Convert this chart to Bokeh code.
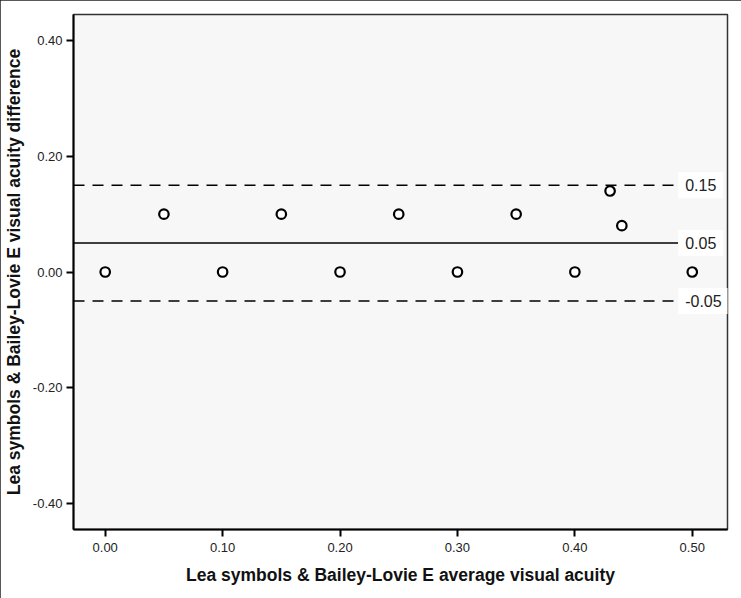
from bokeh.plotting import figure
from bokeh.models import Label, FixedTicker, Range1d
from bokeh.embed import file_html
from bokeh.resources import INLINE

# Data
avg_acuity = [0.00, 0.05, 0.10, 0.15, 0.20, 0.25, 0.30, 0.35, 0.40, 0.43, 0.44, 0.50]
diff_acuity = [0.00, 0.10, 0.00, 0.10, 0.00, 0.10, 0.00, 0.10, 0.00, 0.14, 0.08, 0.00]
mean_diff = 0.05
upper_loa = 0.15
lower_loa = -0.05
line_labels = ["0.15", "0.05", "-0.05"]
x_ticks = [0.0, 0.1, 0.2, 0.3, 0.4, 0.5]
y_ticks = [-0.4, -0.2, 0.0, 0.2, 0.4]

X_START, X_END = -0.027, 0.530
LINE_END = 0.488

p = figure(width=741, height=598, output_backend="svg", toolbar_location=None,
           x_range=Range1d(X_START, X_END), y_range=Range1d(-0.445, 0.445),
           min_border_left=73, min_border_right=14, min_border_top=14, min_border_bottom=69)
p.styles = {"outline": "2px solid #222222", "outline-offset": "-2px"}

p.background_fill_color = "#f7f7f7"
p.border_fill_color = "white"
p.outline_line_color = "#333333"
p.outline_line_width = 1.5
p.xgrid.visible = False
p.ygrid.visible = False

font = "Liberation Sans"
for ax in (p.xaxis[0], p.yaxis[0]):
    ax.axis_line_color = "black"
    ax.axis_line_width = 2
    ax.major_tick_line_color = "black"
    ax.major_tick_line_width = 2
    ax.major_tick_out = 7
    ax.major_tick_in = 0
    ax.minor_tick_line_color = None
    ax.major_label_text_font = font
    ax.major_label_text_font_size = "13px"
    ax.major_label_text_color = "#222222"
    ax.axis_label_text_font = font
    ax.axis_label_text_font_size = "17.5px"
    ax.axis_label_text_font_style = "bold"
    ax.axis_label_text_color = "#111111"

p.xaxis.ticker = FixedTicker(ticks=x_ticks)
p.yaxis.ticker = FixedTicker(ticks=y_ticks)
p.xaxis.major_label_overrides = {t: f"{t:.2f}" for t in x_ticks}
p.yaxis.major_label_overrides = {t: f"{t:.2f}" for t in y_ticks}
p.xaxis.axis_label = "Lea symbols & Bailey-Lovie E average visual acuity"
p.yaxis.axis_label = "Lea symbols & Bailey-Lovie E visual acuity difference"
p.xaxis.major_label_standoff = 6
p.xaxis.axis_label_standoff = 10
p.yaxis.major_label_standoff = 4
p.yaxis.axis_label_standoff = 6

ref_y = [upper_loa, mean_diff, lower_loa]
dashes = ["11 8", "solid", "11 8"]
for yv, dash in zip(ref_y, dashes):
    p.line([X_START, LINE_END], [yv, yv], line_color="black", line_width=1.5, line_dash=dash)

for yv, txt in zip(ref_y, line_labels):
    p.add_layout(Label(x=LINE_END, y=yv, text=txt, text_font=font, text_font_size="16px",
                       text_color="#222222", text_align="left", text_baseline="middle",
                       padding=7, background_fill_color="white",
                       background_fill_alpha=1.0))

p.scatter(avg_acuity, diff_acuity, marker="circle", size=9.5, line_color="black",
          line_width=2.2, fill_color="white")

open("out.html", "w").write(file_html(p, INLINE))
